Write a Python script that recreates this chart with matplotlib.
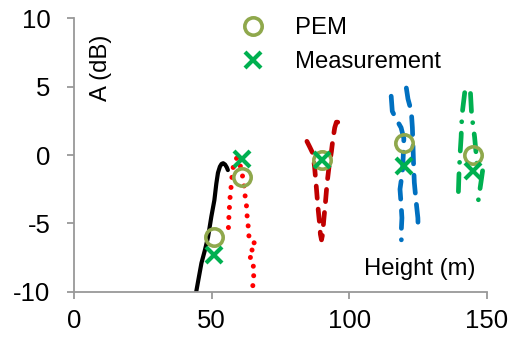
import numpy as np
import matplotlib
matplotlib.use("Agg")
import matplotlib.pyplot as plt

plt.rcParams['font.family'] = ['Liberation Sans', 'DejaVu Sans']
plt.rcParams['axes.unicode_minus'] = False

nan = np.nan

# curves (height profiles)
black_x = [44.4, 45.3, 46.3, 47.5, 48.7, 49.9, 51.0, 51.7, 52.3, 53.0, 53.6, 54.2, 54.9, 55.5, 55.9]
black_y = [-10.0, -9.0, -7.9, -7.0, -6.0, -4.5, -3.3, -2.1, -1.3, -0.85, -0.65, -0.6, -0.7, -0.9, -1.1]

red_x = [56.1, 56.3, 56.5, 56.8, 57.2, 57.5, 58.0, 58.6, 59.4, 60.2, 61.1, 61.7, 62.0, 62.6,
         62.8, 63.2, 63.5, 65.8, 63.8, 65.6, 64.0, 65.4, 64.6, 65.4, 65.0, 64.6]
red_y = [-5.3, -4.4, -3.7, -2.8, -2.1, -1.3, -0.7, -0.3, -0.2, -0.6, -1.4, -2.1, -2.8, -3.5,
         -4.3, -5.0, -5.9, -6.35, -6.7, -7.2, -7.5, -8.0, -8.4, -8.9, -9.5, -10.0]

dred_x = [84.6, 85.6, 86.8, 87.4, 88.0, 88.6, 89.2, 89.5, 89.9, 90.3, 90.7, 91.4, 91.9, 92.6,
          93.5, 94.0, 94.7, 95.3, 95.8, 96.4]
dred_y = [1.0, 0.6, 0.1, -0.9, -2.3, -3.8, -5.0, -5.8, -6.2, -5.8, -4.8, -3.3, -2.1, -0.9,
          0.25, 1.1, 2.0, 2.4, 2.4, 2.1]

blue_x = [115.2, 115.6, 117.1, 118.8, 119.8, 119.6, 119.3, 118.4, 118.8, 119.1, 118.9, 118.9, nan,
          120.7, 121.3, 122.5, 122.9, 123.1, 123.3, 123.6, 124.2, 124.9, 125.0]
blue_y = [4.3, 3.2, 2.6, 2.0, 1.2, 0.0, -1.2, -2.5, -3.6, -4.6, -5.4, -6.2, nan,
          4.9, 4.1, 3.2, 2.0, 0.8, -0.5, -2.0, -3.3, -4.6, -5.6]

green_x = [141.9, 140.9, 140.6, 140.1, 139.8, 139.5, nan,
           144.0, 144.4, 145.5, 146.0, 146.4, 148.5, 147.8, 146.7]
green_y = [4.56, 2.9, 1.3, -0.3, -1.5, -3.4, nan,
           4.5, 3.0, 1.3, 0.2, -0.8, -1.0, -2.0, -3.5]

# points
heights = [51, 61, 90, 120, 145]
pem = [-6.0, -1.6, -0.4, 0.85, 0.0]
meas = [-7.3, -0.3, -0.4, -0.8, -1.2]

fig = plt.figure(figsize=(5.17, 3.37), dpi=100)
ax = fig.add_axes([0.143, 0.134, 0.799, 0.812])

ax.plot(black_x, black_y, color='black', lw=3, solid_capstyle='round')
ax.plot(red_x, red_y, color='#FF0000', lw=3.6, linestyle=(0, (0.01, 2.0)), dash_capstyle='round')
ax.plot(dred_x, dred_y, color='#C00000', lw=3.4, linestyle=(0, (2.6, 2.3)), dash_capstyle='round')
ax.plot(blue_x, blue_y, color='#0070C0', lw=3.4, linestyle=(0, (3.8, 2.4)), dash_capstyle='round')
ax.plot(green_x, green_y, color='#00B050', lw=3.4, linestyle=(0, (3.8, 2.4, 0.01, 2.4)), dash_capstyle='round')

ax.plot(heights, pem, 'o', ms=12.5, mfc='none', mec='#8FA84C', mew=2.6, label='PEM', zorder=5)
ax.plot(heights, meas, 'x', ms=11, mec='#00B050', mew=3, label='Measurement', zorder=6)

ax.set_xlim(0, 150)
ax.set_ylim(-10, 10)
ax.set_xticks([0, 50, 100, 150])
ax.set_yticks([-10, -5, 0, 5, 10])
for s in ['top', 'right']:
    ax.spines[s].set_visible(False)
for s in ['left', 'bottom']:
    ax.spines[s].set_color('#999999')
    ax.spines[s].set_linewidth(1.3)
ax.tick_params(length=5, width=1.3, color='#999999', labelsize=18.5)
ax.tick_params(axis='y', pad=12)
ax.tick_params(axis='x', pad=7)

ax.text(10, 6.4, 'A (dB)', rotation=90, ha='center', va='center', fontsize=17.2)
ax.text(125.7, -8.3, 'Height (m)', ha='center', va='center', fontsize=17.2)

ax.legend(loc='upper left', bbox_to_anchor=(241 / 517, 1 - 17 / 337), bbox_transform=fig.transFigure,
          frameon=False, fontsize=17.2, handlelength=1.0, handletextpad=1.25, labelspacing=0.5,
          borderpad=0, borderaxespad=0)

fig.savefig('out.png', dpi=100)
